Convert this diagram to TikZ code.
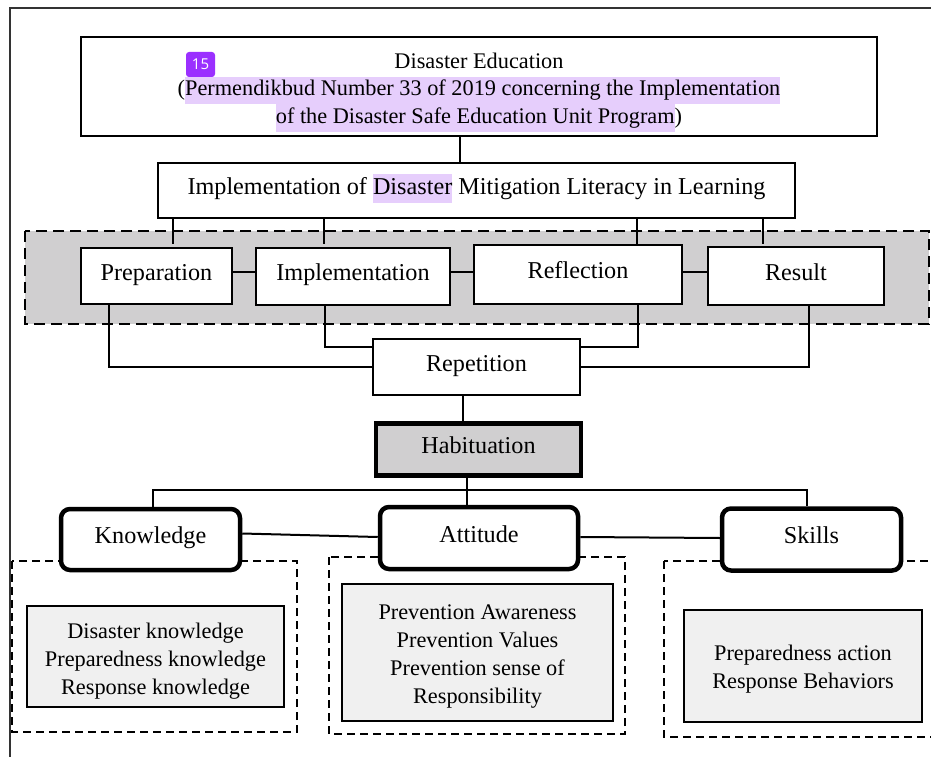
\documentclass[tikz,border=0pt]{standalone}
\usepackage{fontspec}
\setmainfont{Liberation Serif}
\newfontfamily\badgefont{Open Sans}
\usetikzlibrary{calc}
\definecolor{hlpurple}{RGB}{230,206,252}
\definecolor{badgepurple}{RGB}{155,48,255}
\definecolor{bandgray}{RGB}{208,207,208}
\definecolor{detailgray}{RGB}{240,240,240}
\newcommand{\hilite}[1]{{\setlength{\fboxsep}{0pt}\colorbox{hlpurple}{\strut#1}}}
\newcommand{\lift}[1]{\rule{0pt}{#1}}
\newcommand{\txt}{\fontsize{22.3}{27.5}\selectfont}
\newcommand{\bigtxt}{\fontsize{24.2}{29}\selectfont}
\tikzset{
	plain/.style={draw, line width=1.6pt, inner sep=0pt, align=center, font=\txt},
	single/.style={plain, font=\bigtxt, text height=0.9em, text depth=0.1em},
	stage/.style={single, fill=white},
	habit/.style={single, line width=4.5pt, fill=bandgray},
	aspect/.style={single, line width=4.5pt, rounded corners=9pt, fill=white},
	detail/.style={plain, line width=1.4pt, fill=detailgray, font=\fontsize{22.3}{28}\selectfont},
	group/.style={draw, line width=2pt, dash pattern=on 8pt off 5pt},
	link/.style={draw, line width=2pt}
}

\begin{document}
\begin{tikzpicture}[x=1pt, y=-1pt]
		\useasboundingbox (0,0) rectangle (931,757);
		\draw[line width=1.5pt, black!80](10,757)--(10,8)--(931,8);
		% bands and groups
		\draw[group, line width=2.4pt, dash pattern=on 11pt off 6pt, fill=bandgray](25,231) rectangle (929,324);
		\draw[group](12,561) rectangle (297,732);
		\draw[group](329,557) rectangle (625,734);
		\draw[group](664,561) rectangle (945,737);
		% nodes
		\node[plain, minimum width=796pt, minimum height=99pt](edu) at (479,86.5){\lift{27pt}Disaster Education\\(\hilite{Permendikbud Number 33 of 2019 concerning the Implementation}\\\hilite{of the Disaster Safe Education Unit Program})};
		\node[fill=badgepurple, text=white, rounded corners=3pt, inner sep=0pt, minimum width=29pt, minimum height=25pt, font=\badgefont\fontsize{15}{15}\selectfont](badge) at (200.5,64.5){15};
		\node[single, minimum width=637pt, minimum height=55pt](impl) at (476.5,190.5){Implementation of \hilite{Disaster} Mitigation Literacy in Learning};
		\node[stage, minimum width=151pt, minimum height=56pt](prep) at (156.5,276){Preparation};
		\node[stage, minimum width=194pt, minimum height=57pt](implem) at (353,276.5){Implementation};
		\node[stage, minimum width=208pt, minimum height=59pt](refl) at (578,274.5){Reflection};
		\node[stage, minimum width=176pt, minimum height=58pt](res) at (796,276){Result};
		\node[stage, minimum width=207pt, minimum height=56pt](rep) at (476.5,367){Repetition};
		\node[habit, minimum width=205pt, minimum height=52pt](hab) at (478.5,449.5){Habituation};
		\node[aspect, minimum width=179pt, minimum height=61pt](know) at (150.5,539.5){Knowledge};
		\node[aspect, minimum width=198pt, minimum height=62pt](att) at (479,538){Attitude};
		\node[aspect, minimum width=179pt, minimum height=62pt](skl) at (811.5,539.5){Skills};
		\node[detail, minimum width=257pt, minimum height=101pt](kdet) at (155.5,656.5){\lift{24pt}Disaster knowledge\\Preparedness knowledge\\Response knowledge};
		\node[detail, minimum width=271pt, minimum height=137pt](adet) at (477.5,652.5){\lift{23pt}Prevention Awareness\\Prevention Values\\Prevention sense of\\Responsibility};
		\node[detail, minimum width=238pt, minimum height=112pt](sdet) at (803,666){\lift{21pt}Preparedness action\\Response Behaviors};
		% connectors
		\coordinate (eduOut) at ($(edu.south)+(-19,0)$);
		\draw[link](eduOut)--(eduOut |- impl.north);
		\foreach \dx in {-303.5, -152.5, 160.5, 286.5}
			\draw[link]($(impl.south)+(\dx,0)$)--++(0,25);
		\draw[link]($(prep.east)+(0,-4)$)--($(implem.west)+(0,-4.5)$);
		\draw[link]($(implem.east)+(0,-4.5)$)--($(refl.west)+(0,-2.5)$);
		\draw[link]($(refl.east)+(0,-2.5)$)--($(res.west)+(0,-4)$);
		\draw[link]($(prep.south)+(-47.5,0)$)|-(rep.west);
		\draw[link]($(res.south)+(13,0)$)|-(rep.east);
		\draw[link]($(implem.south)+(-28,0)$)|-($(rep.west)+(0,-20)$);
		\draw[link]($(refl.south)+(60,0)$)|-($(rep.east)+(0,-20)$);
		\coordinate (repOut) at ($(rep.south)+(-13.5,0)$);
		\draw[link](repOut)--(repOut |- hab.north);
		\coordinate (habOut) at ($(hab.south)+(-11.5,0)$);
		\coordinate (fork) at ($(habOut)+(0,12.5)$);
		\draw[link](habOut)--(habOut |- att.north);
		\draw[link]($(know.north)+(2.5,0)$)|-(fork)-|($(skl.north)+(-4.5,0)$);
		\draw[link]($(know.east)+(0,-6)$)--($(att.west)+(0,-1)$);
		\draw[link]($(att.east)+(0,-1)$)--($(skl.west)+(0,-1.5)$);
	\end{tikzpicture}
\end{document}
